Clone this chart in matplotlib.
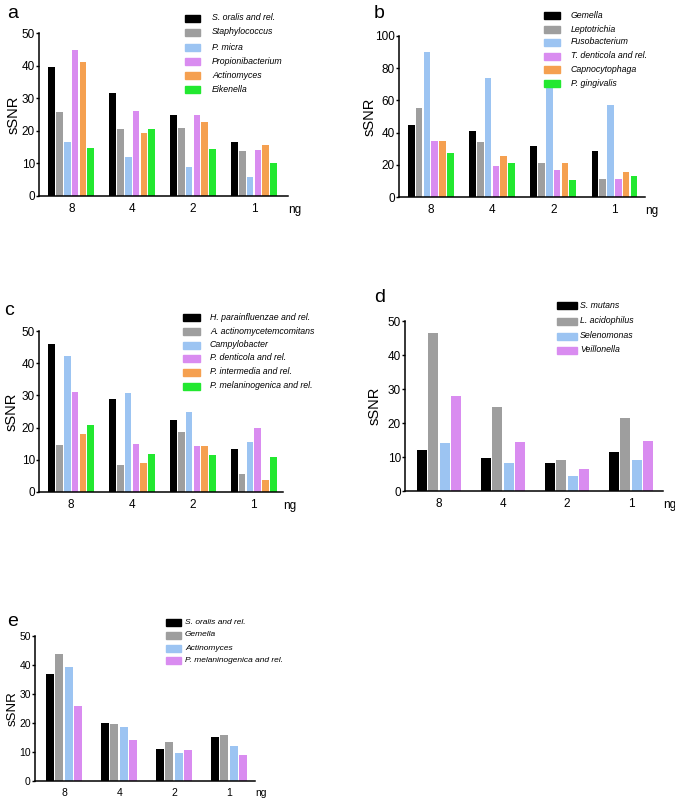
import matplotlib
matplotlib.use("Agg")
import matplotlib.pyplot as plt
import numpy as np

plt.rcParams['font.family'] = ['Liberation Sans', 'DejaVu Sans']

groups = ["8", "4", "2", "1"]

# Panel a
a_labels = ["S. oralis and rel.", "Staphylococcus", "P. micra", "Propionibacterium", "Actinomyces", "Eikenella"]
a_vals = [
    [39.7, 31.5, 24.8, 16.7],
    [25.8, 20.7, 21.0, 13.8],
    [16.5, 12.0, 9.0, 5.7],
    [44.7, 26.0, 24.8, 14.0],
    [41.0, 19.3, 22.8, 15.5],
    [14.8, 20.6, 14.5, 10.1],
]
# Panel b
b_labels = ["Gemella", "Leptotrichia", "Fusobacterium", "T. denticola and rel.", "Capnocytophaga", "P. gingivalis"]
b_vals = [
    [45.0, 40.9, 31.5, 28.8],
    [55.0, 34.2, 21.4, 11.2],
    [90.2, 74.0, 67.8, 57.0],
    [34.6, 19.3, 17.0, 11.2],
    [34.6, 25.5, 21.4, 15.6],
    [27.2, 21.4, 10.8, 12.9],
]
# Panel c
c_labels = ["H. parainfluenzae and rel.", "A. actinomycetemcomitans", "Campylobacter",
            "P. denticola and rel.", "P. intermedia and rel.", "P. melaninogenica and rel."]
c_vals = [
    [46.1, 29.0, 22.3, 13.4],
    [14.6, 8.4, 18.6, 5.5],
    [42.2, 30.8, 24.8, 15.5],
    [31.1, 14.8, 14.2, 19.8],
    [18.0, 8.9, 14.2, 3.7],
    [20.9, 11.9, 11.6, 10.8],
]
# Panel d
d_labels = ["S. mutans", "L. acidophilus", "Selenomonas", "Veillonella"]
d_vals = [
    [12.2, 9.7, 8.2, 11.4],
    [46.5, 24.7, 9.0, 21.5],
    [14.2, 8.1, 4.5, 9.1],
    [28.0, 14.4, 6.5, 14.7],
]
# Panel e
e_labels = ["S. oralis and rel.", "Gemella", "Actinomyces", "P. melaninogenica and rel."]
e_vals = [
    [37.0, 20.1, 11.0, 15.3],
    [43.9, 19.7, 13.6, 15.9],
    [39.3, 18.5, 9.8, 12.1],
    [26.0, 14.3, 10.8, 9.0],
]

colors6 = ["#000000", "#9e9e9e", "#9cc4f2", "#d98cf0", "#f5a050", "#22e830"]
colors4 = ["#000000", "#9e9e9e", "#9cc4f2", "#d98cf0"]

W, H = 675, 799
fig = plt.figure(figsize=(W / 100, H / 100), dpi=100)


def add_ax(left, right, top, bottom):
    return fig.add_axes([left / W, 1 - bottom / H, (right - left) / W, (bottom - top) / H])


def panel(box, vals, labels, colors, ymax, ystep, pitch, width, letter, letter_xy,
          leg_handle_x, leg_text_x, leg_rows, ylabel_x, xlim,
          fs_tick=8.5, fs_label=10.5, fs_leg=6.3):
    ax = add_ax(*box)
    x = np.arange(len(groups))
    n = len(vals)
    for i, (v, c) in enumerate(zip(vals, colors)):
        off = (i - (n - 1) / 2) * pitch
        ax.bar(x + off, v, width=width, color=c, edgecolor='none')
    ax.set_xlim(*xlim)
    ax.set_ylim(0, ymax)
    ax.set_yticks(np.arange(0, ymax + 1, ystep))
    ax.set_xticks(x)
    ax.set_xticklabels(groups)
    ax.tick_params(axis='x', length=0, labelsize=fs_tick, pad=5)
    ax.tick_params(axis='y', length=2, width=1, labelsize=fs_tick, pad=1)
    for s in ['top', 'right']:
        ax.spines[s].set_visible(False)
    for s in ['left', 'bottom']:
        ax.spines[s].set_linewidth(1.1)
    ax.set_ylabel("sSNR", fontsize=fs_label)
    l, r, t, b = box
    ax.yaxis.set_label_coords((ylabel_x - l) / (r - l), 0.5)
    ax.yaxis.label.set_va('center')
    ax.text(1.0, -0.085, "ng", transform=ax.transAxes, fontsize=fs_tick, ha='left', va='center')
    fig.text(letter_xy[0] / W, 1 - letter_xy[1] / H, letter, fontsize=14, ha='left', va='center')
    for lab, c, yy in zip(labels, colors, leg_rows):
        fig.patches.append(matplotlib.patches.Rectangle(
            (leg_handle_x[0] / W, 1 - (yy + 3.5) / H),
            (leg_handle_x[1] - leg_handle_x[0]) / W, 7 / H,
            transform=fig.transFigure, color=c, figure=fig))
        fig.text(leg_text_x / W, 1 - yy / H, lab, fontsize=fs_leg, style='italic',
                 ha='left', va='center')
    return ax


panel((39, 288, 33, 196), a_vals, a_labels, colors6, 50, 10, 0.128, 0.108, "a", (7, 14),
      (185, 200), 212, [18, 32, 47, 61, 75, 89], 14, (-0.53, 3.56))
panel((399, 645, 36, 197), b_vals, b_labels, colors6, 100, 20, 0.128, 0.108, "b", (374, 14),
      (544, 560), 571, [15, 29, 42, 56, 69, 83], 370, (-0.52, 3.5))
panel((39, 283, 331, 492), c_vals, c_labels, colors6, 50, 10, 0.128, 0.108, "c", (4, 310),
      (183, 200), 210, [317, 331, 345, 358, 372, 386], 12, (-0.53, 3.48))
panel((405, 663, 321, 491), d_vals, d_labels, colors4, 50, 10, 0.177, 0.155, "d", (374, 297),
      (557, 577), 580, [305, 321, 336, 350], 375, (-0.53, 3.5))
panel((35, 255, 636, 781), e_vals, e_labels, colors4, 50, 10, 0.17, 0.145, "e", (7, 622),
      (166, 181), 185, [622, 635, 648, 660], 13, (-0.53, 3.47),
      fs_tick=7.5, fs_label=9.5, fs_leg=6.0)

fig.savefig("out.png", dpi=100, facecolor='white')
